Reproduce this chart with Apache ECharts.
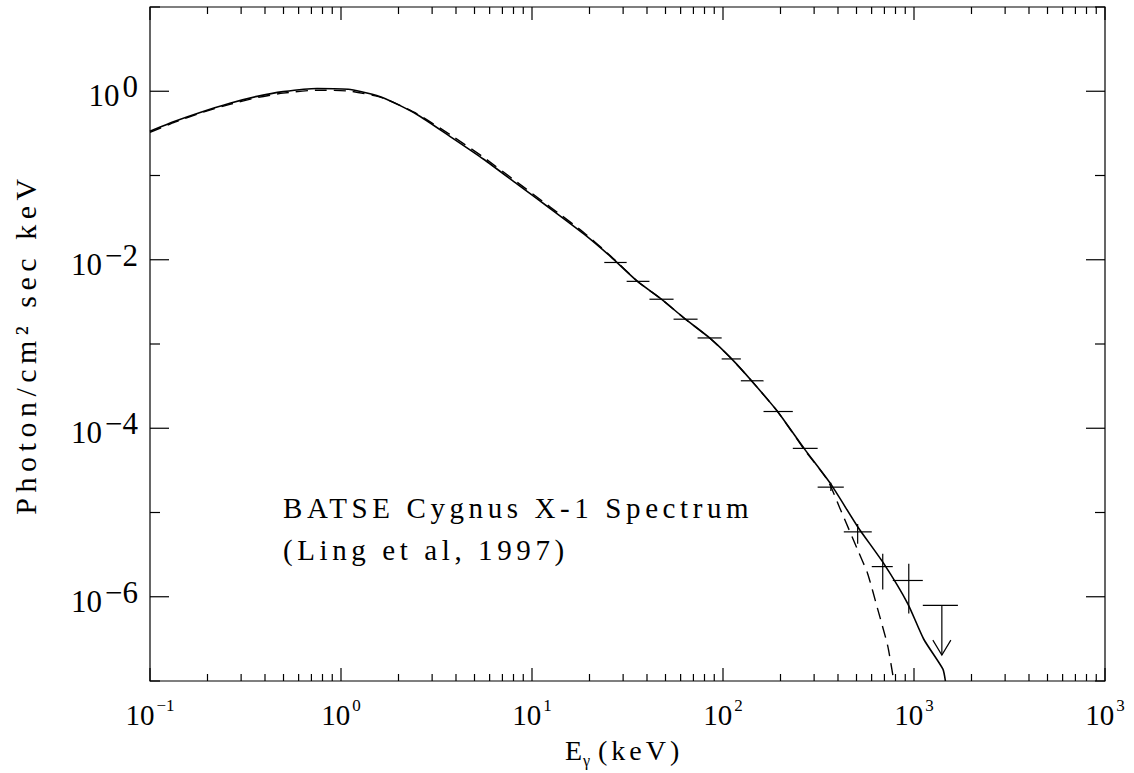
<!DOCTYPE html>
<html>
<head>
<meta charset="utf-8">
<script src="https://cdn.jsdelivr.net/npm/echarts@6/dist/echarts.min.js"></script>
<style>
  html, body { margin: 0; padding: 0; background: #fff; overflow: hidden; }
  #main { width: 1134px; height: 773px; overflow: hidden; }
  #main svg { display: block; }
</style>
</head>
<body>
<div id="main"></div>
<script>
// model curves (keV, photon/cm2/s/keV)
var solidE = [0.1, 0.135, 0.183, 0.262, 0.364, 0.498, 0.75, 1.12, 1.66, 2.5, 3.73, 5.56, 8.37, 12.5, 18.6, 25.8, 35.7, 47.6, 63.6, 85.1, 111, 141, 193, 268, 367, 508, 695, 927, 1125, 1415, 1460];
var solidF = [0.335, 0.44, 0.56, 0.72, 0.87, 0.99, 1.08, 1.05, 0.84, 0.53, 0.29, 0.157, 0.079, 0.0403, 0.0204, 0.0109, 0.00553, 0.0034, 0.00197, 0.00118, 6.65e-4, 3.66e-4, 1.58e-4, 5.61e-5, 2.17e-5, 6.74e-6, 2.47e-6, 8.3e-7, 3.13e-7, 1.39e-7, 1.0e-7];

var dashedE = [0.1, 0.135, 0.183, 0.262, 0.364, 0.498, 0.75, 1.12, 1.66, 2.5, 3.73, 5.56, 8.37, 12.5, 18.6, 25.8, 35.7, 47.6, 63.6, 85.1, 111, 141, 193, 268, 353, 413, 507, 572, 646, 729, 784];
var dashedF = [0.325, 0.43, 0.55, 0.70, 0.84, 0.95, 1.03, 1.00, 0.83, 0.54, 0.305, 0.165, 0.083, 0.042, 0.0212, 0.0111, 0.00553, 0.0034, 0.00197, 0.00118, 6.65e-4, 3.66e-4, 1.58e-4, 5.5e-5, 2.41e-5, 1.07e-5, 3.6e-6, 1.88e-6, 7.08e-7, 2.59e-7, 1.0e-7];

// BATSE points: energy bin, bar position, flux and error range
var binLo  = [23.9, 31.3, 41.2, 55.1, 73.6, 98.4, 124, 163, 232, 313, 429, 601, 774];
var binHi  = [31.3, 41.2, 55.1, 73.6, 98.4, 124, 163, 232, 313, 429, 601, 774, 1112];
var binMid = [27.4, 35.9, 47.6, 63.7, 85.1, 110, 142, 195, 270, 367, 507, 686, 939];
var flux   = [9.28e-3, 5.54e-3, 3.40e-3, 1.97e-3, 1.18e-3, 6.65e-4, 3.66e-4, 1.58e-4, 5.77e-5, 2.00e-5, 5.89e-6, 2.28e-6, 1.56e-6];
var fluxLo = [9.28e-3, 5.54e-3, 3.40e-3, 1.97e-3, 1.18e-3, 6.65e-4, 3.66e-4, 1.58e-4, 5.77e-5, 1.80e-5, 4.25e-6, 1.22e-6, 6.34e-7];
var fluxHi = [9.28e-3, 5.54e-3, 3.40e-3, 1.97e-3, 1.18e-3, 6.65e-4, 3.66e-4, 1.58e-4, 5.77e-5, 2.25e-5, 7.31e-6, 3.24e-6, 2.47e-6];

// upper limit
var ulLo = [1112];
var ulHi = [1698];
var ulMid = [1399];
var ulFlux = [7.89e-7];
var ulTip = [2.03e-7];

// tick labels (exponents), last one printed as 10^3 in the original
var xTickExps = ['\u22121', '0', '1', '2', '3', '3'];
var yTickExps = ['\u22126', '\u22124', '\u22122', '0'];
var yLabelDecades = [-6, -4, -2, 0];

var xMajor = [0.1, 1, 10, 100, 1000, 10000];
var yDecades = [1e-7, 1e-6, 1e-5, 1e-4, 1e-3, 1e-2, 1e-1, 1, 10];

var noteLines = ['BATSE Cygnus X-1 Spectrum', '(Ling et al, 1997)'];
var yTitle = 'Photon/cm\u00b2 sec keV';

var xTicks = [];
for (var d = 0; d < xMajor.length; d++) {
  xTicks.push([xMajor[d], 1]);
  if (d < xMajor.length - 1) {
    for (var m = 2; m <= 9; m++) xTicks.push([xMajor[d] * m, 0]);
  }
}
var yTicks = [];
for (var k = 0; k < yDecades.length; k++) {
  var e = Math.round(Math.log10(yDecades[k]));
  yTicks.push([yDecades[k], e % 2 === 0 ? 1 : 0]);
}

function pairs(xs, ys) {
  var out = [];
  for (var i = 0; i < xs.length; i++) out.push([xs[i], ys[i]]);
  return out;
}

var points = [];
for (var i = 0; i < flux.length; i++) {
  points.push([binLo[i], binHi[i], binMid[i], flux[i], fluxLo[i], fluxHi[i]]);
}
var limits = [];
for (var j = 0; j < ulFlux.length; j++) {
  limits.push([ulLo[j], ulHi[j], ulMid[j], ulFlux[j], ulTip[j]]);
}

var FONT = 'Liberation Serif';
var lineStyle = { stroke: '#000', lineWidth: 1.2 };

var myChart = echarts.init(document.getElementById('main'), null, { renderer: 'svg' });

option = {
  backgroundColor: '#fff',
  animation: false,
  grid: {
    left: 150, top: 7, width: 955, height: 678,
    show: true, borderColor: '#000', borderWidth: 1.2, backgroundColor: 'transparent'
  },
  xAxis: {
    type: 'log', logBase: 10, min: 0.1, max: 10000, splitNumber: 5,
    axisLine: { show: false },
    axisTick: { show: false },
    splitLine: { show: false },
    axisLabel: {
      margin: 16,
      showMinLabel: true, showMaxLabel: true,
      fontFamily: FONT,
      formatter: function (v) {
        var idx = Math.round(Math.log10(v)) + 1;
        return '{b|10}{s|' + xTickExps[idx] + '}';
      },
      rich: {
        b: { fontFamily: FONT, fontSize: 29, lineHeight: 36, color: '#000', verticalAlign: 'middle', padding: [0, 2, 0, 0] },
        s: { fontFamily: FONT, fontSize: 17, lineHeight: 22, color: '#000', verticalAlign: 'top' }
      }
    },
    name: '{b|E}{s|\u03b3}{k|(keV)}',
    nameLocation: 'middle',
    nameGap: 55,
    nameTextStyle: {
      rich: {
        b: { fontFamily: FONT, fontSize: 28, lineHeight: 32, width: 18, align: 'left', color: '#000', verticalAlign: 'top' },
        s: { fontFamily: FONT, fontSize: 16, lineHeight: 16, width: 15, align: 'left', color: '#000', verticalAlign: 'bottom' },
        k: { fontFamily: FONT, fontSize: 28, lineHeight: 32, width: 92, align: 'left', color: '#000', verticalAlign: 'top' }
      }
    }
  },
  yAxis: {
    type: 'log', logBase: 10, min: 1e-7, max: 10, splitNumber: 8,
    axisLine: { show: false },
    axisTick: { show: false },
    splitLine: { show: false },
    axisLabel: {
      margin: 12,
      showMinLabel: true, showMaxLabel: true,
      formatter: function (v) {
        var e = Math.round(Math.log10(v));
        var idx = yLabelDecades.indexOf(e);
        if (idx < 0) return '';
        return '{b|10}{s|' + yTickExps[idx] + '}';
      },
      rich: {
        b: { fontFamily: FONT, fontSize: 31, lineHeight: 40, color: '#000', verticalAlign: 'bottom', padding: [0, 3, 0, 0] },
        s: { fontFamily: FONT, fontSize: 31, lineHeight: 24, color: '#000', verticalAlign: 'top' }
      }
    },
    name: yTitle,
    nameLocation: 'middle',
    nameRotate: 90,
    nameGap: 110,
    nameTextStyle: { fontFamily: FONT, fontSize: 30, color: '#000' }
  },
  graphic: [{
    type: 'text',
    left: 283,
    top: 487,
    style: {
      text: noteLines.join('\n'),
      fontFamily: FONT,
      fontSize: 29,
      lineHeight: 42,
      fill: '#000'
    }
  }],
  series: [
    {
      name: 'model',
      type: 'line',
      data: pairs(solidE, solidF),
      showSymbol: false,
      smooth: 0.2,
      clip: true,
      lineStyle: { color: '#000', width: 1.6 }
    },
    {
      name: 'model2',
      type: 'line',
      data: pairs(dashedE, dashedF),
      showSymbol: false,
      smooth: 0.2,
      clip: true,
      lineStyle: { color: '#000', width: 1.4, type: [12, 7] }
    },
    {
      name: 'data',
      type: 'custom',
      data: points,
      encode: { x: [0, 1, 2], y: [3, 4, 5] },
      renderItem: function (params, api) {
        var a = api.coord([api.value(0), api.value(3)]);
        var b = api.coord([api.value(1), api.value(3)]);
        var c = api.coord([api.value(2), api.value(4)]);
        var d = api.coord([api.value(2), api.value(5)]);
        return {
          type: 'group',
          children: [
            { type: 'line', shape: { x1: a[0], y1: a[1], x2: b[0], y2: b[1] }, style: lineStyle },
            { type: 'line', shape: { x1: c[0], y1: c[1], x2: d[0], y2: d[1] }, style: lineStyle }
          ]
        };
      }
    },
    {
      name: 'limit',
      type: 'custom',
      data: limits,
      encode: { x: [0, 1, 2], y: [3, 4] },
      renderItem: function (params, api) {
        var a = api.coord([api.value(0), api.value(3)]);
        var b = api.coord([api.value(1), api.value(3)]);
        var c = api.coord([api.value(2), api.value(3)]);
        var d = api.coord([api.value(2), api.value(4)]);
        return {
          type: 'group',
          children: [
            { type: 'line', shape: { x1: a[0], y1: a[1], x2: b[0], y2: b[1] }, style: lineStyle },
            { type: 'line', shape: { x1: c[0], y1: c[1], x2: d[0], y2: d[1] }, style: lineStyle },
            { type: 'polyline', shape: { points: [[d[0] - 9, d[1] - 15], [d[0], d[1]], [d[0] + 9, d[1] - 15]] }, style: { stroke: '#000', lineWidth: 1.2, fill: null } }
          ]
        };
      }
    },
    {
      name: 'xticks',
      type: 'custom',
      data: xTicks,
      clip: false,
      silent: true,
      encode: { x: 0 },
      renderItem: function (params, api) {
        var cs = params.coordSys;
        var px = api.coord([api.value(0), 1])[0];
        var len = api.value(1) === 1 ? 13 : 7;
        var yb = cs.y + cs.height, yt = cs.y;
        return {
          type: 'group',
          children: [
            { type: 'line', shape: { x1: px, y1: yb, x2: px, y2: yb - len }, style: lineStyle },
            { type: 'line', shape: { x1: px, y1: yt, x2: px, y2: yt + len }, style: lineStyle }
          ]
        };
      }
    },
    {
      name: 'yticks',
      type: 'custom',
      data: yTicks,
      clip: false,
      silent: true,
      encode: { y: 0 },
      renderItem: function (params, api) {
        var cs = params.coordSys;
        var py = api.coord([1, api.value(0)])[1];
        var len = api.value(1) === 1 ? 19 : 10;
        var xl = cs.x, xr = cs.x + cs.width;
        return {
          type: 'group',
          children: [
            { type: 'line', shape: { x1: xl, y1: py, x2: xl + len, y2: py }, style: lineStyle },
            { type: 'line', shape: { x1: xr, y1: py, x2: xr - len, y2: py }, style: lineStyle }
          ]
        };
      }
    }
  ]
};
myChart.setOption(option);

// the original lettering is widely spaced: open up the longer texts
var spacing = {};
spacing[noteLines[0]] = '4.6px';
spacing[noteLines[1]] = '4.6px';
spacing[yTitle] = '5.5px';
spacing['(keV)'] = '4px';
var texts = document.querySelectorAll('#main text');
for (var t = 0; t < texts.length; t++) {
  var s = spacing[texts[t].textContent.trim()];
  if (s) texts[t].style.letterSpacing = s;
}
</script>
</body>
</html>
